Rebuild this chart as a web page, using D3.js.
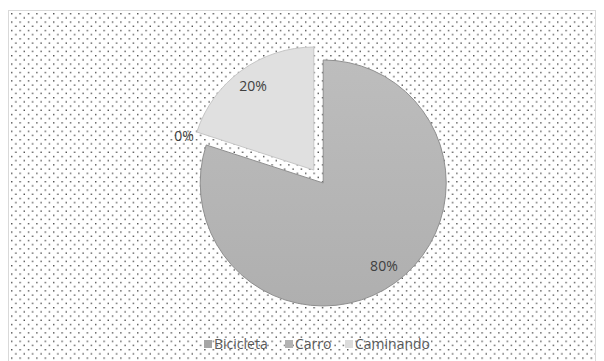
<!DOCTYPE html>
<html><head><meta charset="utf-8">
<script src="https://cdn.jsdelivr.net/npm/d3@7"></script>
<style>body{margin:0;background:#fff}svg{display:block}</style>
</head><body>
<script>
const categories = ["Bicicleta", "Carro", "Caminando"];
const values = [80, 0, 20];
const labels = ["80%", "0%", "20%"];
const colors = ["url(#gBici)", "#b3b3b3", "#e0e0e0"];
const legendColors = ["#a6a6a6", "#b3b3b3", "#dcdcdc"];
const strokes = ["#8f8f8f", "#9a9a9a", "#c6c6c6"];

const W = 604, H = 361;
const svg = d3.select("body").append("svg").attr("width", W).attr("height", H);
const defs = svg.append("defs");
const pat = defs.append("pattern").attr("id", "dots").attr("patternUnits", "userSpaceOnUse")
  .attr("x", 11).attr("y", 13).attr("width", 8.4).attr("height", 8.4);
pat.append("rect").attr("x", 0).attr("y", 0).attr("width", 1.4).attr("height", 1.4).attr("fill", "#4f4f4f");
pat.append("rect").attr("x", 4.2).attr("y", 4.2).attr("width", 1.4).attr("height", 1.4).attr("fill", "#4f4f4f");
const g1 = defs.append("linearGradient").attr("id", "gBici").attr("x1", 0).attr("y1", 0).attr("x2", 0).attr("y2", 1);
g1.append("stop").attr("offset", 0).attr("stop-color", "#bdbdbd");
g1.append("stop").attr("offset", 1).attr("stop-color", "#afafaf");

svg.append("rect").attr("x", 8.5).attr("y", 10.5).attr("width", 587).attr("height", 360)
  .attr("fill", "#fff").attr("stroke", "#d9d9d9");
svg.append("rect").attr("x", 9).attr("y", 11).attr("width", 586).attr("height", 350).attr("fill", "url(#dots)");

const cx = 318.5, cy = 176.5, R = 123, explode = 8;
const pie = d3.pie().sort(null).value(d => d.v).startAngle(0).endAngle(2 * Math.PI);
const data = pie(categories.map((c, i) => ({c, v: values[i], i})));
const arc = d3.arc().innerRadius(0).outerRadius(R);
const g = svg.append("g").attr("transform", `translate(${cx},${cy})`);
data.forEach(d => {
  const mid = (d.startAngle + d.endAngle) / 2;
  const ox = Math.sin(mid) * explode, oy = -Math.cos(mid) * explode;
  const i = d.data.i;
  const sg = g.append("g").attr("transform", `translate(${ox},${oy})`);
  if (d.endAngle > d.startAngle) {
    sg.append("path").attr("d", arc(d)).attr("fill", colors[i]).attr("stroke", strokes[i]).attr("stroke-width", 1);
  }
  const lr = d.data.v === 0 ? R * 1.0 : R * 0.84;
  const lx = Math.sin(mid) * lr, ly = -Math.cos(mid) * lr;
  sg.append("text").attr("x", lx).attr("y", ly).attr("dy", "0.35em")
    .attr("text-anchor", d.data.v === 0 ? "end" : "middle")
    .attr("font-family", "'Open Sans', 'Liberation Sans', sans-serif").attr("font-size", 14)
    .attr("fill", "#404040").text(labels[i]);
});

// legend
const legendX = [204, 285, 345];
const lg = svg.append("g");
categories.forEach((c, i) => {
  lg.append("rect").attr("x", legendX[i]).attr("y", 340).attr("width", 8).attr("height", 8)
    .attr("fill", legendColors[i]);
  lg.append("text").attr("x", legendX[i] + 10).attr("y", 344).attr("dy", "0.35em")
    .attr("font-family", "'Open Sans', 'Liberation Sans', sans-serif").attr("font-size", 14)
    .attr("fill", "#595959").text(c);
});
</script>
</body></html>
